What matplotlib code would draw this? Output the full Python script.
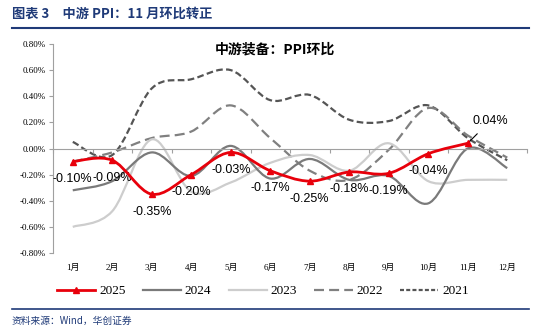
import numpy as np
import matplotlib
matplotlib.use("Agg")
import matplotlib.pyplot as plt
from matplotlib.path import Path
from matplotlib.patches import PathPatch
from matplotlib.lines import Line2D

plt.rcParams['font.family'] = ['Liberation Serif', 'Noto Sans CJK SC', 'DejaVu Sans']

# 数据 (单位: %)
months = ['1月', '2月', '3月', '4月', '5月', '6月', '7月', '8月', '9月', '10月', '11月', '12月']
y2025 = [-0.10, -0.09, -0.35, -0.20, -0.03, -0.17, -0.25, -0.18, -0.19, -0.04, 0.04]
y2024 = [-0.32, -0.25, -0.03, -0.21, 0.02, -0.23, -0.08, -0.24, -0.21, -0.42, 0.00, -0.15]
y2023 = [-0.60, -0.48, 0.07, -0.33, -0.26, -0.11, -0.05, -0.17, 0.04, -0.25, -0.24, -0.24]
y2022 = [-0.10, -0.03, 0.08, 0.13, 0.33, 0.08, -0.17, -0.24, -0.01, 0.31, 0.10, -0.07]
y2021 = [0.05, -0.05, 0.46, 0.53, 0.60, 0.37, 0.41, 0.22, 0.21, 0.33, 0.08, -0.09]
yticks = [-0.8, -0.6, -0.4, -0.2, 0.0, 0.2, 0.4, 0.6, 0.8]

navy = '#1f3a78'


# Excel风格的平滑曲线
def smooth_path(xs, ys):
    xs = np.asarray(xs, float)
    ys = np.asarray(ys, float)
    n = len(xs)
    verts = [(xs[0], ys[0])]
    codes = [Path.MOVETO]
    for i in range(n - 1):
        i0 = max(i - 1, 0)
        i3 = min(i + 2, n - 1)
        c1 = (xs[i] + (xs[i + 1] - xs[i0]) / 6, ys[i] + (ys[i + 1] - ys[i0]) / 6)
        c2 = (xs[i + 1] - (xs[i3] - xs[i]) / 6, ys[i + 1] - (ys[i3] - ys[i]) / 6)
        verts += [c1, c2, (xs[i + 1], ys[i + 1])]
        codes += [Path.CURVE4] * 3
    return Path(verts, codes)


fig = plt.figure(figsize=(5.5, 3.32), dpi=100)
ax = fig.add_axes([53 / 550, 1 - 253 / 332, 474 / 550, 209 / 332])

series = [
    ('2021', y2021, dict(color='#555555', lw=1.6, ls=(0, (3, 1.5)))),
    ('2022', y2022, dict(color='#808080', lw=1.6, ls=(0, (4.5, 2.3)))),
    ('2023', y2023, dict(color='#cdcdcd', lw=1.6, ls='-')),
    ('2024', y2024, dict(color='#7a7a7a', lw=1.6, ls='-')),
]
x_all = np.arange(1, 13)
for name, ys, st in series:
    p = smooth_path(x_all[:len(ys)], ys)
    ax.add_patch(PathPatch(p, fill=False, edgecolor=st['color'], lw=st['lw'],
                           linestyle=st['ls'], capstyle='butt'))

x25 = x_all[:len(y2025)]
ax.add_patch(PathPatch(smooth_path(x25, y2025), fill=False, edgecolor='#e8000b', lw=2.0, zorder=5))
ax.plot(x25, y2025, ls='none', marker='^', ms=4, color='#e8000b', zorder=6)

# 数据标签
for i, v in enumerate(y2025):
    if i == len(y2025) - 1:
        ax.annotate(f'{v:.2f}%', xy=(x25[i], v), xytext=(16, 16), textcoords='offset points',
                    ha='center', va='center', fontsize=9, family='Liberation Sans',
                    arrowprops=dict(arrowstyle='-', color='black', lw=0.8, shrinkA=4, shrinkB=0))
    else:
        ax.annotate(f'{v:.2f}%', xy=(x25[i], v), xytext=(0, -12.5), textcoords='offset points',
                    ha='center', va='center', fontsize=9, family='Liberation Sans')

ax.set_xlim(0.5, 12.5)
ax.set_ylim(-0.8, 0.8)
ax.set_yticks(yticks)
ax.set_yticklabels([f'{t:.2f}%' for t in yticks], fontsize=6.5)
ax.tick_params(axis='y', length=3, width=0.8, color='#a0a0a0', pad=2.5)

ax.spines['top'].set_visible(False)
ax.spines['right'].set_visible(False)
ax.spines['left'].set_color('#a0a0a0')
ax.spines['bottom'].set_position(('data', 0))
ax.spines['bottom'].set_color('#a0a0a0')
ax.set_xticks(np.arange(0.5, 13, 1))
ax.set_xticklabels([])
ax.tick_params(axis='x', length=3, width=0.8, color='#a0a0a0', direction='out')

for i, m in enumerate(months):
    ax.annotate(m, xy=(i + 1, -0.8), xytext=(0, -11), textcoords='offset points',
                ha='center', va='center', fontsize=6.5)

ax.text(0.468, 1.005, '中游装备：PPI环比', transform=ax.transAxes, ha='center', va='top',
        fontsize=10, fontweight='bold', family=['Noto Sans CJK SC'])

# 图例
handles = [
    Line2D([], [], color='#e8000b', lw=2.0, marker='^', ms=4, markevery=[1]),
    Line2D([], [], color='#7a7a7a', lw=1.6),
    Line2D([], [], color='#cdcdcd', lw=1.6),
    Line2D([], [], color='#808080', lw=1.6, ls=(0, (4.5, 2.3))),
    Line2D([], [], color='#555555', lw=1.6, ls=(0, (1.8, 1.0))),
]
fig.legend(handles, ['2025', '2024', '2023', '2022', '2021'], loc='center',
           bbox_to_anchor=(263 / 550, 1 - 291 / 332), ncol=5, frameon=False,
           fontsize=9.5, handlelength=2.9, columnspacing=1.3, handletextpad=0.3)

# 标题与来源
fig.text(12 / 550, 1 - 14 / 332, '图表 3　中游 PPI：11 月环比转正', ha='left', va='center',
         fontsize=9.5, fontweight='bold', color=navy, family=['Noto Sans CJK SC'])
fig.add_artist(Line2D([12 / 550, 529 / 550], [1 - 28 / 332] * 2, color=navy, lw=1.5))
fig.add_artist(Line2D([12 / 550, 529 / 550], [1 - 309 / 332] * 2, color=navy, lw=1.2))
fig.text(12 / 550, 1 - 321 / 332, '资料来源：Wind，华创证券', ha='left', va='center',
         fontsize=7, style='italic', color=navy, family=['Noto Sans CJK SC'])

fig.savefig('out.png', dpi=100)
